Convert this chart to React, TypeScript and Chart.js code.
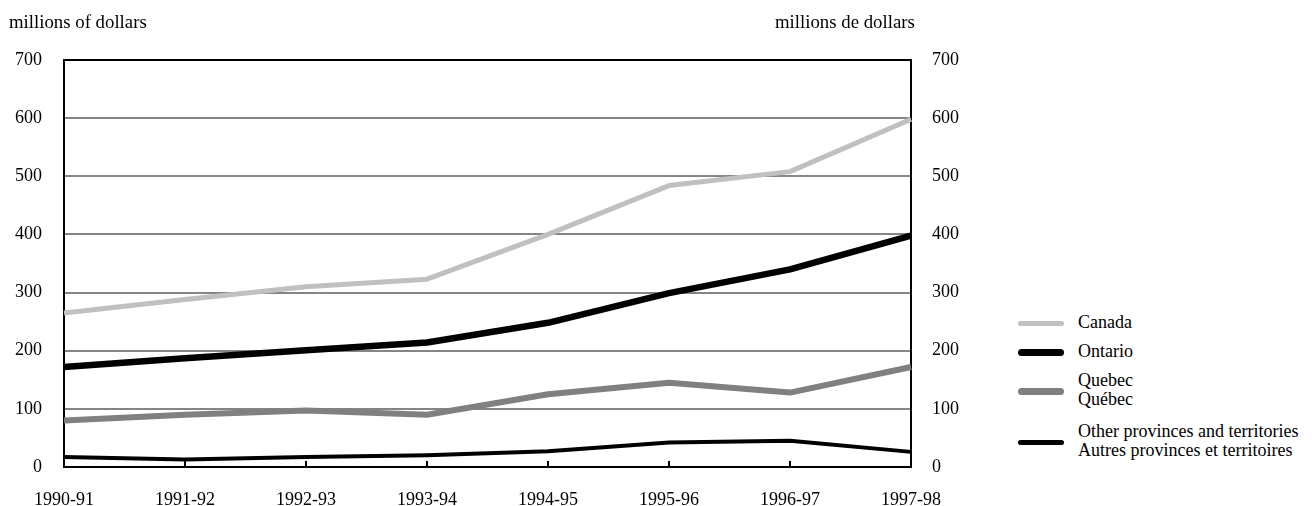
import React, { useEffect, useRef } from "react";
import { Chart, registerables } from "chart.js";

Chart.register(...registerables);

const categories = ["1990-91", "1991-92", "1992-93", "1993-94", "1994-95", "1995-96", "1996-97", "1997-98"];
const canadaValues = [265, 288, 310, 323, 400, 484, 508, 598];
const ontarioValues = [172, 187, 201, 214, 248, 299, 340, 398];
const quebecValues = [80, 90, 97, 90, 125, 145, 128, 172];
const otherValues = [17, 13, 17, 20, 27, 42, 45, 26];
const yTickValues = [0, 100, 200, 300, 400, 500, 600, 700];

const leftTitle = "millions of dollars";
const rightTitle = "millions de dollars";

const legendItems = [
  { lines: ["Canada"], color: "#c0c0c0", width: 5 },
  { lines: ["Ontario"], color: "#000000", width: 7 },
  { lines: ["Quebec", "Québec"], color: "#808080", width: 7 },
  { lines: ["Other provinces and territories", "Autres provinces et territoires"], color: "#000000", width: 5 },
];

const FONT = "'Liberation Serif', 'Times New Roman', serif";

const framePlugin = {
  id: "frame",
  beforeDatasetsDraw(chart: any) {
    const { ctx, chartArea } = chart;
    const xs = chart.scales.x;
    ctx.save();
    ctx.strokeStyle = "#000";
    ctx.lineWidth = 2;
    ctx.strokeRect(chartArea.left, chartArea.top, chartArea.right - chartArea.left, chartArea.bottom - chartArea.top);
    for (let i = 1; i < categories.length - 1; i++) {
      const x = Math.round(xs.getPixelForValue(i));
      ctx.beginPath();
      ctx.moveTo(x, chartArea.bottom);
      ctx.lineTo(x, chartArea.bottom - 6);
      ctx.stroke();
    }
    ctx.restore();
  },
};

export default function App() {
  const ref = useRef<HTMLCanvasElement | null>(null);

  useEffect(() => {
    document.body.style.margin = "0";
    if (!ref.current) return;
    const tickFont = { family: FONT, size: 18 };
    const chart = new Chart(ref.current, {
      type: "line",
      data: {
        labels: categories,
        datasets: [
          { label: "Canada", data: canadaValues, borderColor: "#c0c0c0", borderWidth: 5 },
          { label: "Ontario", data: ontarioValues, borderColor: "#000000", borderWidth: 6.5 },
          { label: "Quebec", data: quebecValues, borderColor: "#808080", borderWidth: 6 },
          { label: "Other", data: otherValues, borderColor: "#000000", borderWidth: 4 },
        ].map((d) => ({ ...d, pointRadius: 0, tension: 0, fill: false, borderJoinStyle: "round" as const, yAxisID: "y" })),
      },
      options: {
        responsive: false,
        animation: false,
        layout: { padding: { top: 60, left: 0, right: 0, bottom: 0 } },
        plugins: { legend: { display: false }, tooltip: { enabled: false } },
        scales: {
          x: {
            grid: { display: false, drawTicks: false },
            border: { display: false },
            ticks: { font: tickFont, color: "#000", padding: 22, maxRotation: 0, autoSkip: false },
            afterFit(scale: any) {
              scale.height = 39;
            },
          },
          y: {
            position: "left",
            min: 0,
            max: 700,
            afterBuildTicks(scale: any) {
              scale.ticks = yTickValues.map((v) => ({ value: v }));
            },
            grid: {
              drawTicks: false,
              lineWidth: 2,
              color: (c: any) => (c.tick && (c.tick.value === 0 || c.tick.value === 700) ? "rgba(0,0,0,0)" : "#858585"),
            },
            border: { display: false },
            ticks: { font: tickFont, color: "#000", padding: 22 },
            afterFit(scale: any) {
              scale.width = 64;
            },
          },
          y2: {
            position: "right",
            min: 0,
            max: 700,
            afterBuildTicks(scale: any) {
              scale.ticks = yTickValues.map((v) => ({ value: v }));
            },
            grid: { display: false, drawTicks: false },
            border: { display: false },
            ticks: { font: tickFont, color: "#000", padding: 21 },
            afterFit(scale: any) {
              scale.width = 89;
            },
          },
        },
      },
      plugins: [framePlugin],
    });
    return () => chart.destroy();
  }, []);

  const textStyle: React.CSSProperties = {
    position: "absolute",
    fontFamily: FONT,
    fontSize: 18,
    color: "#000",
    whiteSpace: "nowrap",
    lineHeight: "19px",
  };

  const legendCenters = [323, 352, 391, 442];

  return (
    <div style={{ position: "relative", width: 1315, height: 506, background: "#fff", overflow: "hidden" }}>
      <canvas ref={ref} width={1000} height={506} style={{ position: "absolute", left: 0, top: 0 }} />
      <div style={{ ...textStyle, left: 9, top: 12, fontSize: 18.8 }}>{leftTitle}</div>
      <div style={{ ...textStyle, left: 775, top: 12, fontSize: 18.8 }}>{rightTitle}</div>
      {legendItems.map((item, i) => (
        <div key={i}>
          <div
            style={{
              position: "absolute",
              left: 1018,
              top: legendCenters[i] - item.width / 2,
              width: 46,
              height: item.width,
              background: item.color,
              borderRadius: item.width / 2,
            }}
          />
          <div style={{ ...textStyle, left: 1078, top: legendCenters[i] - (item.lines.length * 19) / 2 - 1 }}>
            {item.lines.map((l, j) => (
              <div key={j}>{l}</div>
            ))}
          </div>
        </div>
      ))}
    </div>
  );
}
